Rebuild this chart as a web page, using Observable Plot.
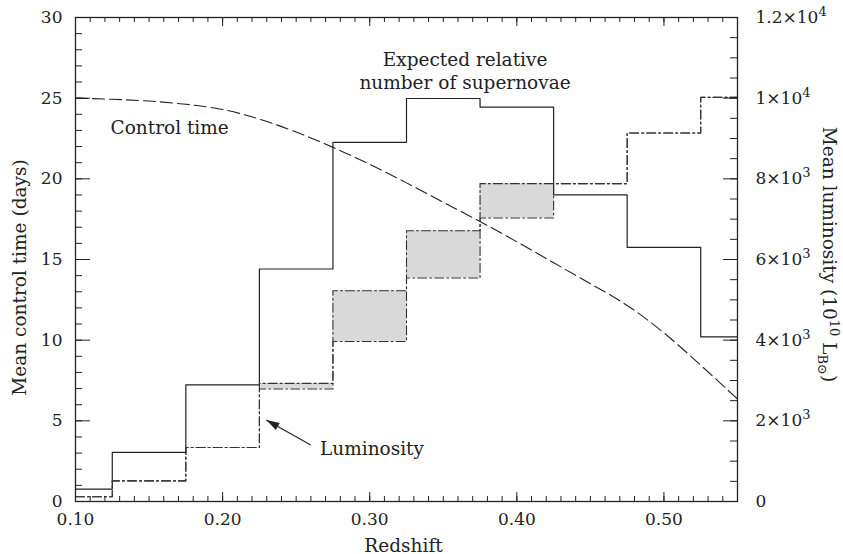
<!DOCTYPE html>
<html><head><meta charset="utf-8">
<script src="https://cdn.jsdelivr.net/npm/d3@7"></script>
<script src="https://cdn.jsdelivr.net/npm/@observablehq/plot@0.6"></script>
<style>body{margin:0;background:#fff}</style>
</head><body><div id="chart"></div>
<script>
// ---- data ----
const binEdges = [0.10, 0.125, 0.175, 0.225, 0.275, 0.325, 0.375, 0.425, 0.475, 0.525, 0.55];
// expected relative number of supernovae (plotted on the left-axis scale)
const supernovae = [0.77, 3.04, 7.23, 14.41, 22.26, 24.98, 24.45, 19.01, 15.75, 10.21];
// mean luminosity, 10^10 L_B (lower / upper bounds per bin)
const lumLow  = [116, 512, 1340, 2788, 3968, 5540, 7028, 7880, 9136, 10020];
const lumHigh = [116, 512, 1340, 2928, 5224, 6712, 7880, 7880, 9136, 10020];
// mean control time (days)
const ctRedshift = [0.10, 0.125, 0.15, 0.175, 0.20, 0.225, 0.25, 0.275, 0.30, 0.325, 0.35, 0.375, 0.40, 0.425, 0.45, 0.475, 0.50, 0.525, 0.55];
const ctDays     = [25.0, 24.93, 24.82, 24.62, 24.3, 23.7, 22.9, 21.95, 20.9, 19.75, 18.55, 17.35, 16.1, 14.8, 13.5, 12.15, 10.45, 8.45, 6.35];
// ticks
const xMajor = [0.1, 0.2, 0.3, 0.4, 0.5];
const xMajorLabels = ["0.10", "0.20", "0.30", "0.40", "0.50"];
const xMinor = d3.range(10, 56).map(v => v / 100);
const leftTicks = [0, 5, 10, 15, 20, 25, 30];
const leftMinor = d3.range(0, 31);
const lumTicks = [0, 2000, 4000, 6000, 8000, 10000, 12000];
const lumLabels = ["0", "2×10³", "4×10³", "6×10³", "8×10³", "1×10⁴", "1.2×10⁴"];
const lumMinor = d3.range(0, 12001, 500);
const LUM_PER_DAY = 400; // right axis 0–1.2×10⁴ shares the frame with left 0–30

// ---- tables ----
const stepTable = vals => binEdges.map((e, i) => ({x: e, y: vals[Math.min(i, vals.length - 1)]}));
const snData = stepTable(supernovae);
const lumLowData = stepTable(lumLow.map(v => v / LUM_PER_DAY));
const lumHighData = stepTable(lumHigh.map(v => v / LUM_PER_DAY));
const boxes = lumLow.map((lo, i) => ({x1: binEdges[i], x2: binEdges[i + 1], y1: lo / LUM_PER_DAY, y2: lumHigh[i] / LUM_PER_DAY}))
  .filter(d => d.y2 > d.y1);
const ctData = ctRedshift.map((x, i) => ({x, y: ctDays[i]}));

const W = 843, H = 554, mL = 75, mR = 106, mT = 17, mB = 53;
const pW = W - mL - mR, pH = H - mT - mB;
const ink = "#222";
const dashDot = "9,3,2,3";
const fs = 18.5;

const chart = Plot.plot({
  width: W, height: H,
  marginLeft: mL, marginRight: mR, marginTop: mT, marginBottom: mB,
  style: {fontFamily: "'DejaVu Serif', serif", fontSize: "17px", color: ink, background: "#fff"},
  x: {domain: [0.10, 0.55], axis: null},
  y: {domain: [0, 30], axis: null},
  marks: [
    Plot.rect(boxes, {x1: "x1", x2: "x2", y1: "y1", y2: "y2", fill: "#d9d9d9"}),
    Plot.line(ctData, {x: "x", y: "y", curve: "natural", stroke: ink, strokeWidth: 1.1, strokeDasharray: "12,5"}),
    Plot.line(snData, {x: "x", y: "y", curve: "step-after", stroke: ink, strokeWidth: 1.2}),
    Plot.line(lumLowData, {x: "x", y: "y", curve: "step-after", stroke: "#333", strokeWidth: 1.1, strokeDasharray: dashDot}),
    Plot.line(lumHighData, {x: "x", y: "y", curve: "step-after", stroke: "#333", strokeWidth: 1.1, strokeDasharray: dashDot}),
    // inward ticks
    Plot.tickY(leftMinor, {y: d => d, insetRight: pW - 7, stroke: ink}),
    Plot.tickY(leftTicks, {y: d => d, insetRight: pW - 15, stroke: ink}),
    Plot.tickY(lumMinor, {y: d => d / LUM_PER_DAY, insetLeft: pW - 7, stroke: ink}),
    Plot.tickY(lumTicks, {y: d => d / LUM_PER_DAY, insetLeft: pW - 14, stroke: ink}),
    Plot.tickX(xMinor, {x: d => d, insetTop: pH - 5, stroke: ink}),
    Plot.tickX(xMajor, {x: d => d, insetTop: pH - 9, stroke: ink}),
    Plot.tickX(xMinor, {x: d => d, insetBottom: pH - 5, stroke: ink}),
    Plot.tickX(xMajor, {x: d => d, insetBottom: pH - 9, stroke: ink}),
    // tick labels
    Plot.axisX(xMajor, {anchor: "bottom", tickSize: 0, tickPadding: 11, label: null,
      tickFormat: d => xMajorLabels[xMajor.indexOf(d)]}),
    Plot.axisY(leftTicks, {anchor: "left", tickSize: 0, tickPadding: 13, label: null}),
    Plot.axisY(lumTicks.map(v => v / LUM_PER_DAY), {anchor: "right", tickSize: 0, tickPadding: 18, label: null,
      tickFormat: d => lumLabels[lumTicks.indexOf(Math.round(d * LUM_PER_DAY))]}),
    Plot.frame({stroke: ink, strokeWidth: 1.3}),
    // axis titles
    Plot.text(["Redshift"], {frameAnchor: "bottom", dy: 50, dx: -3, lineAnchor: "bottom", textAnchor: "middle", fontSize: fs}),
    Plot.text(["Mean control time (days)"], {frameAnchor: "left", rotate: -90, dx: -49.5, dy: 18, lineAnchor: "bottom", textAnchor: "middle", fontSize: fs}),
    Plot.text(["Mean luminosity (10"], {frameAnchor: "right", rotate: 90, dx: 85, dy: -5, lineAnchor: "bottom", textAnchor: "middle", fontSize: fs}),
    // annotations
    Plot.text([{x: 0.1238, y: 22.8, t: "Control time"}], {x: "x", y: "y", text: "t", textAnchor: "start", lineAnchor: "bottom", fontSize: fs}),
    Plot.text([{x: 0.3648, y: 25.59, t: "Expected relative\nnumber of supernovae"}], {x: "x", y: "y", text: "t", textAnchor: "middle", lineAnchor: "bottom", lineHeight: 1.25, fontSize: fs}),
    Plot.text([{x: 0.2662, y: 2.88, t: "Luminosity"}], {x: "x", y: "y", text: "t", textAnchor: "start", lineAnchor: "bottom", fontSize: fs}),
    Plot.link([{x1: 0.2599, y1: 3.50, x2: 0.2297, y2: 5.05}], {x1: "x1", y1: "y1", x2: "x2", y2: "y2", stroke: ink, strokeWidth: 1.1, markerEnd: "arrow"})
  ]
});

const svg = d3.select(chart);
// filled arrowhead
svg.selectAll("marker").each(function () {
  const m = d3.select(this);
  m.attr("viewBox", "-13 -5 14 10").attr("markerWidth", 14).attr("markerHeight", 10)
   .attr("fill", ink).attr("stroke", "none");
  m.selectAll("path").attr("d", "M-12,-3.6L0,0L-12,3.6Z");
});
// right-axis tick labels: mantissa × 10 with a real superscript exponent
const supMap = {"³": "3", "⁴": "4"};
svg.selectAll("text").filter(function () { return /×10[³⁴]$/.test(this.textContent); })
  .each(function () {
    const s = this.textContent;
    const t = d3.select(this);
    t.text(null);
    t.append("tspan").text(s.slice(0, -1));
    t.append("tspan").attr("dy", -7).attr("font-size", 13).text(supMap[s.slice(-1)]);
  });
// right-axis title with super/subscripts
svg.selectAll("text").filter(function () { return this.textContent === "Mean luminosity (10"; })
  .each(function () {
    const t = d3.select(this);
    t.text(null);
    t.append("tspan").text("Mean luminosity (10");
    t.append("tspan").attr("dy", -7).attr("font-size", 13).text("10");
    t.append("tspan").attr("dy", 7).text(" L");
    t.append("tspan").attr("dy", 5).attr("font-size", 13).text("B⊙");
    t.append("tspan").attr("dy", -5).text(")");
  });

document.getElementById("chart").append(chart);
</script>
</body></html>
